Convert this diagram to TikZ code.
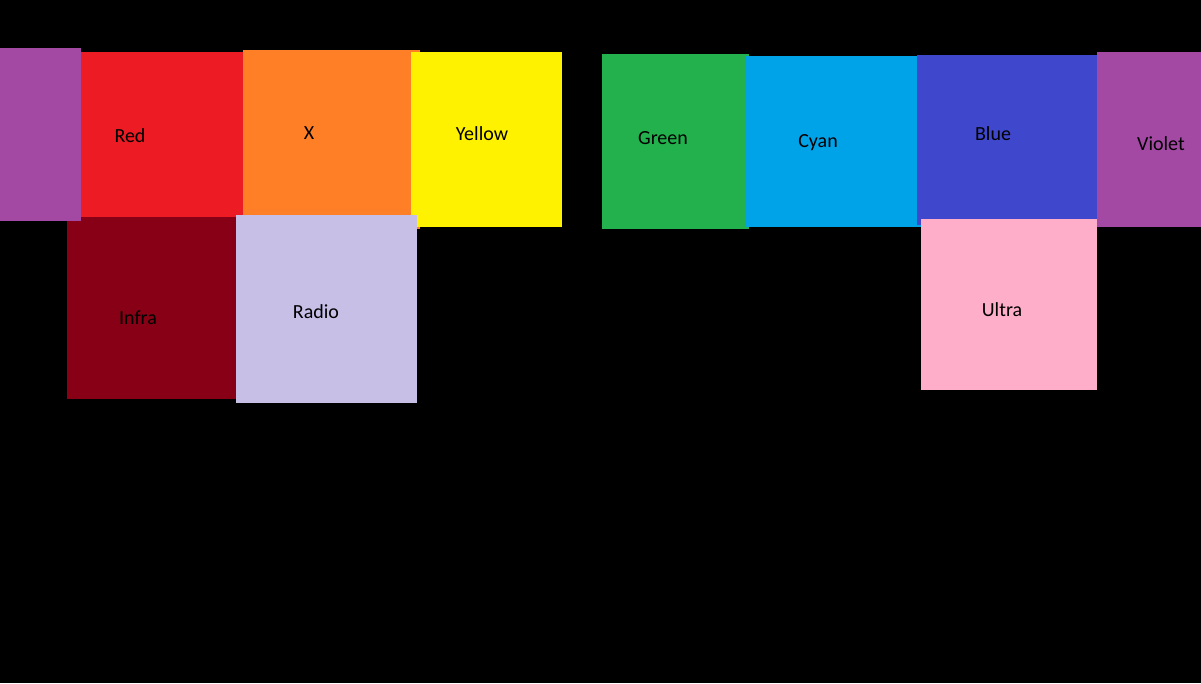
\documentclass[tikz,border=0pt]{standalone}
\usepackage{fontspec}
\setmainfont{Carlito}
\definecolor{cpurple}{HTML}{A349A4}
\definecolor{cred}{HTML}{ED1C24}
\definecolor{corange}{HTML}{FF7F27}
\definecolor{cyellow}{HTML}{FFF200}
\definecolor{cgreen}{HTML}{22B14C}
\definecolor{ccyan}{HTML}{00A2E8}
\definecolor{cblue}{HTML}{3F48CC}
\definecolor{cpink}{HTML}{FFAEC9}
\definecolor{clav}{HTML}{C8BFE7}
\definecolor{cdred}{HTML}{880015}
\begin{document}
\begin{tikzpicture}[x=1pt,y=-1pt,
  box/.style={draw=none,rectangle,inner sep=0pt,outer sep=0pt},
  lbl/.style={anchor=base,inner sep=0pt,font=\fontsize{20}{24}\selectfont,text=black}]
\fill[black] (0,0) rectangle (1201,683);
\useasboundingbox (0,0) rectangle (1201,683);
% left group
\node[box,fill=cred,minimum width=170pt,minimum height=165pt] (red) at (158,134.5) {};
\node[box,fill=corange,minimum width=177pt,minimum height=179pt] (orange) at (331.5,139.5) {};
\node[box,fill=cyellow,minimum width=151pt,minimum height=175pt] (yellow) at (486.5,139.5) {};
\node[box,fill=cdred,minimum width=173pt,minimum height=182pt] (infra) at (153.5,308) {};
\node[box,fill=clav,minimum width=181pt,minimum height=188pt] (radio) at (326.5,309) {};
\node[box,fill=cpurple,minimum width=81pt,minimum height=173pt] (purple) at (40.5,134.5) {};
% right group
\node[box,fill=cgreen,minimum width=147pt,minimum height=175pt] (green) at (675.5,141.5) {};
\node[box,fill=ccyan,minimum width=176pt,minimum height=171pt] (cyan) at (833,141.5) {};
\node[box,fill=cblue,minimum width=180pt,minimum height=170pt] (blue) at (1007,140) {};
\node[box,fill=cpink,minimum width=176pt,minimum height=171pt] (ultra) at (1009,304.5) {};
\node[box,fill=cpurple,minimum width=104pt,minimum height=175pt] (violet) at (1149,139.5) {};
% labels
\node[lbl] (tred) at (130,142) {Red};
\node[lbl] (tx) at (309,139) {X};
\node[lbl] (tyellow) at (482,140) {Yellow};
\node[lbl] (tgreen) at (663,144) {Green};
\node[lbl] (tcyan) at (818,147) {Cyan};
\node[lbl] (tblue) at (993,140) {Blue};
\node[lbl] (tviolet) at (1161,150) {Violet};
\node[lbl] (tultra) at (1002,316) {Ultra};
\node[lbl] (tinfra) at (138,324) {Infra};
\node[lbl] (tradio) at (316,318) {Radio};
\end{tikzpicture}
\end{document}
